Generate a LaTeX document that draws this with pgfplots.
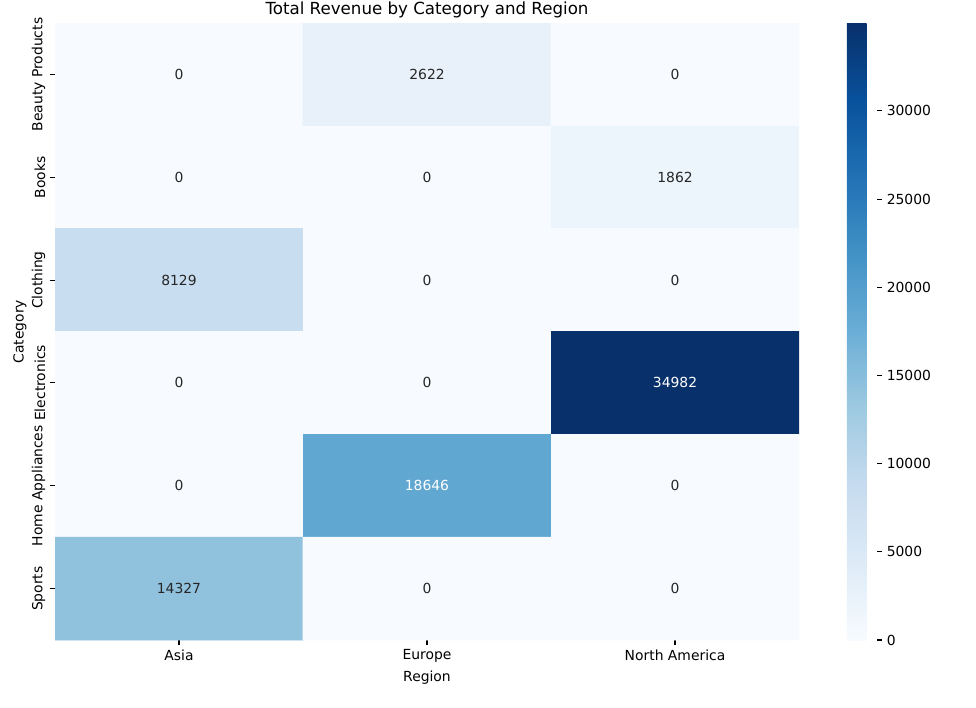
\documentclass[border=0pt]{standalone}
\usepackage{pgfplots}
\pgfplotsset{compat=1.18}
\usepackage{fontspec}
\setmainfont{DejaVu Sans}
\setsansfont{DejaVu Sans}
\definecolor{annotdark}{HTML}{262626}
\pgfplotsset{
  colormap={blues}{rgb255=(247,251,255) rgb255=(222,235,247) rgb255=(198,219,239) rgb255=(158,202,225) rgb255=(107,174,214) rgb255=(66,146,198) rgb255=(33,113,181) rgb255=(8,81,156) rgb255=(8,48,107)}
}
\begin{document}
\begin{tikzpicture}
\path[use as bounding box] (0,0) rectangle (702.72pt,509.04pt);
\begin{axis}[
  at={(39.6pt,48.24pt)}, anchor=south west,
  scale only axis, width=535.68pt, height=444.24pt,
  xmin=-0.5, xmax=2.5, ymin=-0.5, ymax=5.5,
  y dir=reverse,
  colormap name=blues,
  point meta min=0, point meta max=34982,
  xtick={0,1,2}, xticklabels={Asia,Europe,North America},
  ytick={0,1,2,3,4,5},
  yticklabels={Beauty Products,Books,Clothing,Electronics,Home Appliances,Sports},
  yticklabel style={rotate=90, anchor=south},
  xtick pos=left, ytick pos=left,
  tick align=outside,
  major tick length=3.5pt,
  tick style={line width=0.8pt, black},
  separate axis lines,
  axis line style={draw=none},
  xlabel={Region}, ylabel={Category},
  title={Total Revenue by Category and Region},
  every axis title shift=0pt,
  every axis title/.style={font=\fontsize{12}{14}\selectfont, at={(0.5,1)}, anchor=base, yshift=6pt},
  xlabel style={yshift=1pt},
  ylabel style={yshift=-3pt},
  colorbar,
  colorbar style={
    width=21.6pt,
    at={(parent axis.north east)}, anchor=north west, xshift=26pt,
    ytick={0,5000,10000,15000,20000,25000,30000},
    scaled y ticks=false,
    separate axis lines,
    axis line style={draw=none},
    tick align=outside, ytick pos=right,
    major tick length=3.5pt,
    tick style={line width=0.8pt, black},
    /pgf/number format/1000 sep={},
    /pgf/number format/assume math mode=true,
  },
]
\addplot[matrix plot*, mesh/cols=3, point meta=explicit] table[meta=c] {
x y c
0 0 0
1 0 2622
2 0 0
0 1 0
1 1 0
2 1 1862
0 2 8129
1 2 0
2 2 0
0 3 0
1 3 0
2 3 34982
0 4 0
1 4 18646
2 4 0
0 5 14327
1 5 0
2 5 0
};
\addplot[draw=none, mark=none, nodes near coords, point meta=explicit symbolic,
  nodes near coords style={anchor=center, text=annotdark, font=\normalsize}]
  table[meta=t] {
x y t
0 0 0
1 0 2622
2 0 0
0 1 0
1 1 0
2 1 1862
0 2 8129
1 2 0
2 2 0
0 3 0
1 3 0
0 4 0
2 4 0
0 5 14327
1 5 0
2 5 0
};
\addplot[draw=none, mark=none, nodes near coords, point meta=explicit symbolic,
  nodes near coords style={anchor=center, text=white, font=\normalsize}]
  table[meta=t] {
x y t
2 3 34982
1 4 18646
};
\end{axis}
\end{tikzpicture}
\end{document}
